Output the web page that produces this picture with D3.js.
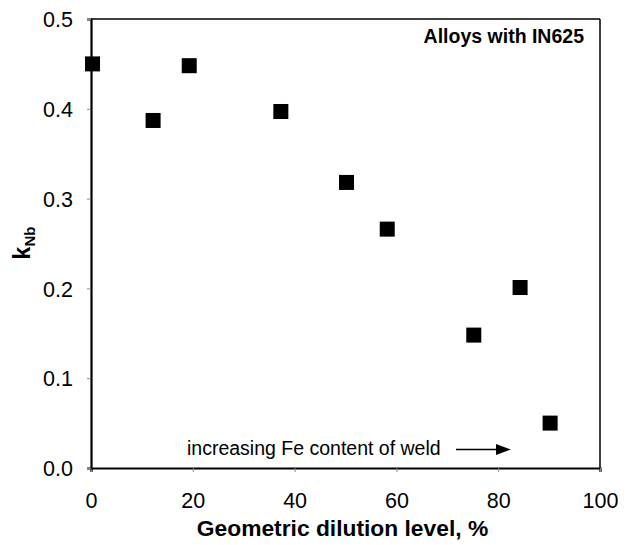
<!DOCTYPE html>
<html><head><meta charset="utf-8">
<script src="https://cdn.jsdelivr.net/npm/d3@7"></script>
<style>body{margin:0;background:#fff}svg{display:block}</style>
</head><body>
<svg id="c" width="633" height="545"></svg>
<script>
const dilution = [0.3, 12.2, 19.3, 37.3, 50.2, 58.2, 75.2, 84.3, 90.2];
const kNb = [0.450, 0.387, 0.448, 0.397, 0.318, 0.266, 0.148, 0.201, 0.050];
const xTicks = [0, 20, 40, 60, 80, 100];
const yTicks = [0.0, 0.1, 0.2, 0.3, 0.4, 0.5];

const svg = d3.select("#c");
const m = {l: 91, r: 600, t: 19, b: 468};
const x = d3.scaleLinear().domain([0, 100]).range([m.l, m.r]);
const y = d3.scaleLinear().domain([0, 0.5]).range([m.b, m.t]);
const font = "Liberation Sans, Arial, sans-serif";

// frame top/right
svg.append("line").attr("x1", m.l).attr("x2", m.r).attr("y1", m.t).attr("y2", m.t).attr("stroke", "#000").attr("stroke-width", 1.5);
svg.append("line").attr("x1", m.r).attr("x2", m.r).attr("y1", m.t).attr("y2", m.b).attr("stroke", "#000").attr("stroke-width", 1.5);

const xAxis = svg.append("g").attr("transform", `translate(0,${m.b})`)
  .call(d3.axisBottom(x).tickValues(xTicks).tickFormat(d3.format("d")).tickSize(4).tickPadding(21));
const yAxis = svg.append("g").attr("transform", `translate(${m.l},0)`)
  .call(d3.axisLeft(y).tickValues(yTicks).tickFormat(d3.format(".1f")).tickSize(4).tickPadding(14));
[xAxis, yAxis].forEach(g => {
  g.select(".domain").attr("stroke", "#000").attr("stroke-width", 2.2);
  g.selectAll(".tick line").attr("stroke", "#888").attr("stroke-width", 1);
  g.selectAll("text").attr("font-family", font).attr("font-size", 21.5).attr("fill", "#000");
});
yAxis.selectAll("text").attr("dy", "0.36em");
xAxis.selectAll("text").attr("dy", "0.71em");

// points
svg.append("g").selectAll("rect").data(dilution).join("rect")
  .attr("x", (d) => x(d) - 7.5).attr("y", (d, i) => y(kNb[i]) - 7.5)
  .attr("width", 15).attr("height", 15).attr("fill", "#000");

// legend text
svg.append("text").attr("x", 584).attr("y", 43).attr("text-anchor", "end")
  .attr("font-family", font).attr("font-weight", "bold").attr("font-size", 19.5).text("Alloys with IN625");

// annotation
svg.append("text").attr("x", 187).attr("y", 455).attr("font-family", font).attr("font-size", 19.5)
  .text("increasing Fe content of weld");
svg.append("line").attr("x1", 456).attr("x2", 500).attr("y1", 449.5).attr("y2", 449.5).attr("stroke", "#000").attr("stroke-width", 1.5);
svg.append("path").attr("d", "M511,449.5 L496,444 L496,455 Z").attr("fill", "#000");

// axis titles
svg.append("text").attr("x", 342.5).attr("y", 536).attr("text-anchor", "middle")
  .attr("font-family", font).attr("font-weight", "bold").attr("font-size", 22.8).text("Geometric dilution level, %");
const yl = svg.append("text").attr("transform", "translate(30,243) rotate(-90)").attr("text-anchor", "middle")
  .attr("font-family", font).attr("font-weight", "bold").attr("font-size", 23);
yl.append("tspan").text("k");
yl.append("tspan").attr("font-size", 15).attr("dy", 5).text("Nb");
</script>
</body></html>
